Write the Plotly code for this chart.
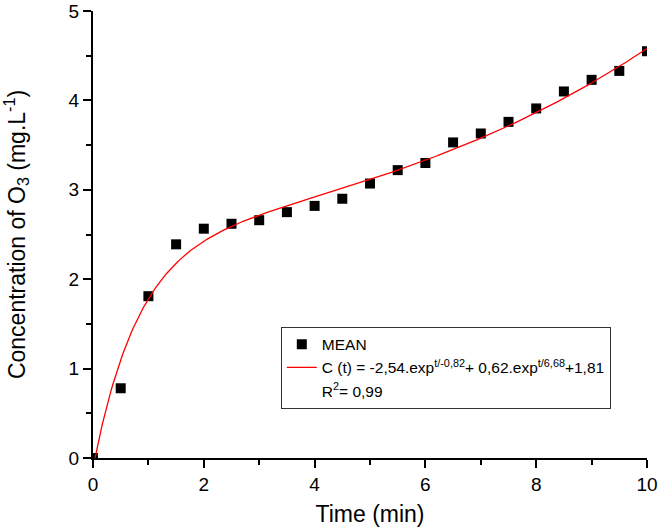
import numpy as np
import plotly.graph_objects as go

# Measured mean concentrations
time_min = [0, 0.5, 1, 1.5, 2, 2.5, 3, 3.5, 4, 4.5, 5, 5.5, 6, 6.5, 7, 7.5, 8, 8.5, 9, 9.5, 10]
mean_conc = [0.0, 0.78, 1.81, 2.39, 2.565, 2.62, 2.66, 2.75, 2.82, 2.90, 3.07, 3.22, 3.30, 3.53,
             3.63, 3.76, 3.91, 4.10, 4.23, 4.33, 4.55]

# Fitted model parameters, as printed in the legend
A1, T1 = -2.54, 0.82
A2, T2 = 0.62, 6.68
C0 = 1.81

x_ticks = [0, 2, 4, 6, 8, 10]
y_ticks = [0, 1, 2, 3, 4, 5]

t_fit = np.linspace(0, 10, 400)
c_fit = A1 * np.exp(-t_fit / T1) + A2 * np.exp(t_fit / T2) + C0

FONT = "Arial, Liberation Sans, sans-serif"

fig = go.Figure()
fig.add_trace(go.Scatter(
    x=time_min, y=mean_conc, mode="markers", name="MEAN",
    marker=dict(symbol="square", size=10, color="black"),
    cliponaxis=True,
))
fig.add_trace(go.Scatter(
    x=t_fit, y=c_fit, mode="lines",
    name="C (t) = -2,54.exp<sup>t/-0,82</sup>+ 0,62.exp<sup>t/6,68</sup>+1,81",
    line=dict(color="#ff0000", width=1.3),
))
fig.add_trace(go.Scatter(
    x=[None], y=[None], mode="markers", name="R<sup>2</sup>= 0,99",
    marker=dict(opacity=0, color="white"),
))

axis_common = dict(
    showline=True, linecolor="black", linewidth=2, mirror=False,
    showgrid=False, zeroline=False, automargin=False,
    ticks="outside", ticklen=8, tickwidth=1.5, tickcolor="black",
    tickfont=dict(family=FONT, size=19, color="black"),
)

fig.update_xaxes(
    range=[0, 10], tickvals=x_ticks,
    minor=dict(dtick=1, ticks="outside", ticklen=5, tickwidth=1.5, tickcolor="black"),
    title=dict(text="Time (min)", font=dict(family=FONT, size=23, color="black"), standoff=12),
    **axis_common,
)
fig.update_yaxes(
    range=[0, 5], tickvals=y_ticks,
    minor=dict(dtick=0.5, ticks="outside", ticklen=5, tickwidth=1.5, tickcolor="black"),
    title=dict(text="Concentration of O<sub>3</sub> (mg.L<sup>-1</sup>)",
               font=dict(family=FONT, size=23, color="black"), standoff=38),
    **axis_common,
)

fig.update_layout(
    width=661, height=530,
    margin=dict(l=93, r=14, t=11, b=72),
    plot_bgcolor="white", paper_bgcolor="white",
    legend=dict(
        x=0.339, y=0.294, xanchor="left", yanchor="top",
        bgcolor="white", bordercolor="#333333", borderwidth=1,
        font=dict(family=FONT, size=15.5, color="black"),
        tracegroupgap=0,
    ),
)

fig.write_html("out.html")
